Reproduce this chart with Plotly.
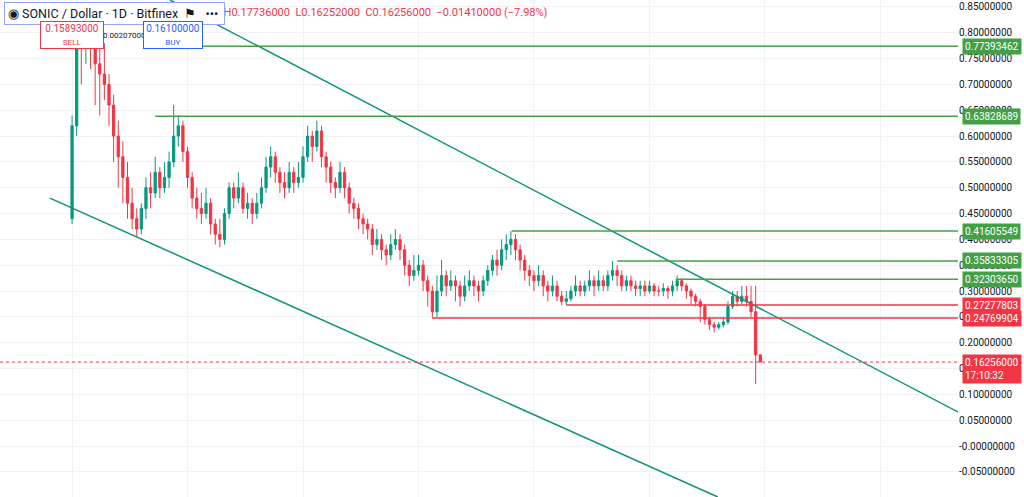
import plotly.graph_objects as go

# daily candles, SONIC / Dollar (Bitfinex)
closes = [0.62, 0.80, 0.78, 0.84, 0.80, 0.74, 0.72, 0.70, 0.66, 0.60,
          0.56, 0.52, 0.47, 0.44, 0.42, 0.46, 0.50, 0.49, 0.53, 0.50,
          0.52, 0.55, 0.60, 0.62, 0.57, 0.52, 0.48, 0.46, 0.45, 0.47,
          0.43, 0.41, 0.40, 0.45, 0.50, 0.48, 0.50, 0.46, 0.47, 0.45,
          0.47, 0.50, 0.54, 0.56, 0.53, 0.51, 0.50, 0.53, 0.51, 0.52,
          0.56, 0.60, 0.58, 0.61, 0.56, 0.54, 0.51, 0.50, 0.53, 0.50,
          0.47, 0.46, 0.44, 0.43, 0.42, 0.39, 0.40, 0.38, 0.37, 0.39,
          0.40, 0.38, 0.35, 0.33, 0.34, 0.35, 0.32, 0.30, 0.26, 0.30,
          0.33, 0.31, 0.32, 0.31, 0.29, 0.31, 0.32, 0.31, 0.30, 0.32,
          0.34, 0.36, 0.35, 0.38, 0.39, 0.40, 0.38, 0.36, 0.34, 0.33,
          0.32, 0.33, 0.31, 0.30, 0.31, 0.29, 0.28, 0.285, 0.30, 0.31,
          0.30, 0.31, 0.32, 0.31, 0.32, 0.31, 0.33, 0.34, 0.33, 0.31,
          0.32, 0.31, 0.305, 0.31, 0.30, 0.31, 0.30, 0.30, 0.305, 0.30,
          0.31, 0.32, 0.31, 0.30, 0.29, 0.28, 0.27, 0.245, 0.235, 0.23,
          0.235, 0.24, 0.27, 0.29, 0.28, 0.29, 0.28, 0.26, 0.17637, 0.16256]
highs = [0.64, 0.86, 0.86, 0.86, 0.86, 0.82, 0.79, 0.78, 0.72, 0.68,
         0.63, 0.59, 0.55, 0.50, 0.46, 0.47, 0.52, 0.53, 0.56, 0.54,
         0.55, 0.57, 0.66, 0.64, 0.63, 0.58, 0.53, 0.50, 0.49, 0.50,
         0.48, 0.44, 0.44, 0.46, 0.51, 0.51, 0.53, 0.51, 0.49, 0.48,
         0.49, 0.52, 0.56, 0.58, 0.57, 0.54, 0.53, 0.55, 0.54, 0.55,
         0.58, 0.62, 0.61, 0.63, 0.62, 0.57, 0.55, 0.52, 0.55, 0.54,
         0.51, 0.48, 0.47, 0.45, 0.44, 0.43, 0.42, 0.41, 0.39, 0.41,
         0.42, 0.41, 0.39, 0.36, 0.37, 0.37, 0.36, 0.33, 0.31, 0.33,
         0.36, 0.34, 0.34, 0.33, 0.32, 0.33, 0.34, 0.33, 0.32, 0.33,
         0.35, 0.37, 0.38, 0.40, 0.41, 0.416, 0.41, 0.39, 0.37, 0.35,
         0.34, 0.35, 0.34, 0.32, 0.33, 0.32, 0.30, 0.30, 0.31, 0.33,
         0.32, 0.32, 0.34, 0.33, 0.34, 0.33, 0.34, 0.358, 0.35, 0.34,
         0.33, 0.33, 0.32, 0.32, 0.32, 0.32, 0.315, 0.31, 0.315, 0.31,
         0.32, 0.33, 0.325, 0.315, 0.305, 0.295, 0.285, 0.275, 0.25, 0.24,
         0.24, 0.25, 0.28, 0.30, 0.30, 0.31, 0.31, 0.31, 0.31, 0.17736]
lows = [0.43, 0.60, 0.70, 0.74, 0.73, 0.66, 0.64, 0.67, 0.62, 0.55,
        0.50, 0.47, 0.44, 0.42, 0.405, 0.41, 0.44, 0.46, 0.48, 0.48,
        0.49, 0.50, 0.54, 0.58, 0.55, 0.50, 0.46, 0.44, 0.43, 0.44,
        0.41, 0.39, 0.385, 0.39, 0.44, 0.46, 0.47, 0.45, 0.44, 0.43,
        0.44, 0.46, 0.49, 0.52, 0.51, 0.49, 0.48, 0.49, 0.49, 0.50,
        0.51, 0.55, 0.55, 0.57, 0.54, 0.51, 0.49, 0.48, 0.49, 0.48,
        0.45, 0.44, 0.42, 0.41, 0.40, 0.37, 0.38, 0.36, 0.35, 0.36,
        0.38, 0.36, 0.33, 0.31, 0.32, 0.33, 0.30, 0.27, 0.248, 0.25,
        0.29, 0.29, 0.30, 0.28, 0.27, 0.28, 0.30, 0.29, 0.28, 0.29,
        0.31, 0.33, 0.33, 0.34, 0.36, 0.37, 0.36, 0.34, 0.32, 0.31,
        0.30, 0.31, 0.29, 0.28, 0.29, 0.28, 0.272, 0.273, 0.28, 0.29,
        0.29, 0.29, 0.30, 0.29, 0.30, 0.30, 0.30, 0.32, 0.31, 0.30,
        0.30, 0.30, 0.29, 0.29, 0.29, 0.295, 0.29, 0.29, 0.29, 0.285,
        0.29, 0.30, 0.30, 0.285, 0.275, 0.27, 0.24, 0.235, 0.225, 0.22,
        0.225, 0.23, 0.235, 0.265, 0.27, 0.275, 0.27, 0.25, 0.12, 0.16252]
first_open = 0.44
opens = [first_open] + closes[:-1]
days = list(range(len(closes)))

# drawn levels: (price, start day, colour)
levels = [(0.77393462, 22.3, "#43a047"), (0.63828689, 18, "#43a047"),
          (0.41605549, 95.2, "#43a047"), (0.35833305, 118, "#43a047"),
          (0.32303650, 130.7, "#43a047"), (0.27277803, 107, "#f23645"),
          (0.24769904, 78, "#f23645")]
last_price = 0.16256
# channel lines: (x0, y0, x1, y1)
channel = [(21.2, 0.8635, 192.2, 0.064), (-4.8, 0.480, 139.8, -0.0987)]

tick_vals = [-0.10, -0.05, 0.0, 0.05, 0.10, 0.15, 0.20, 0.25, 0.30, 0.35, 0.40,
             0.45, 0.50, 0.55, 0.60, 0.65, 0.70, 0.75, 0.80, 0.85]
tick_text = ["-0.10000000", "-0.05000000", "-0.00000000"] + ["%.8f" % v for v in tick_vals[3:]]

GREEN = "#089981"
RED = "#f23645"
W, H, R = 1024, 497, 66
PW = W - R
X_RANGE = [-15.6, 191.8]

fig = go.Figure()
fig.add_trace(go.Candlestick(
    x=days, open=opens, high=highs, low=lows, close=closes,
    increasing=dict(line=dict(color=GREEN, width=1), fillcolor=GREEN),
    decreasing=dict(line=dict(color=RED, width=1), fillcolor=RED),
    whiskerwidth=0, showlegend=False,
))

shapes = []
for x0, y0, x1, y1 in channel:
    shapes.append(dict(type="line", x0=x0, y0=y0, x1=x1, y1=y1, xref="x", yref="y",
                       line=dict(color="#0c9478", width=1.5)))
for price, start, col in levels:
    shapes.append(dict(type="line", x0=start, x1=X_RANGE[1], xref="x", y0=price, y1=price, yref="y",
                       line=dict(color=col, width=1.5)))
shapes.append(dict(type="line", x0=0, x1=1, xref="paper", y0=last_price, y1=last_price, yref="y",
                   line=dict(color=RED, width=1, dash="dot")))

ann = []
for price, start, col in levels:
    ann.append(dict(x=1, xref="paper", y=price, yref="y", xanchor="left", xshift=4,
                    text="%.8f" % price, showarrow=False, bgcolor=col, borderpad=2,
                    font=dict(color="white", size=10)))
ann.append(dict(x=1, xref="paper", y=last_price, yref="y", xanchor="left", xshift=4, yanchor="top",
                yshift=8, text="%.8f<br>17:10:32" % last_price, showarrow=False, bgcolor=RED,
                borderpad=2, align="left", font=dict(color="white", size=10)))


def px(x, y):
    return x / PW, 1 - y / H


ox, oy = px(150, 13)
ann.append(dict(x=ox, y=oy, xref="paper", yref="paper", xanchor="left", yanchor="middle",
                showarrow=False,
                text="O0.17637000  H0.17736000  L0.16252000  C0.16256000  \u22120.01410000 (\u22127.98%)",
                font=dict(color=RED, size=11)))
hx, hy = px(4, 14)
ann.append(dict(x=hx, y=hy, xref="paper", yref="paper", xanchor="left", yanchor="middle",
                showarrow=False,
                text="\u25c9 SONIC / Dollar · 1D · Bitfinex  \u2691   \u2022\u2022\u2022 ",
                bgcolor="white", bordercolor="#90a7f8", borderwidth=1, borderpad=3,
                font=dict(color="#131722", size=12.5)))
sx, sy = px(40, 35)
ann.append(dict(x=sx, y=sy, xref="paper", yref="paper", yanchor="middle", showarrow=False, width=60,
                text="0.15893000<br><span style='font-size:8px'>SELL</span>",
                bgcolor="white", bordercolor=RED, borderwidth=1, borderpad=1,
                font=dict(color=RED, size=10)))
mx, my = px(101, 35)
ann.append(dict(x=mx, y=my, xref="paper", yref="paper", yanchor="middle", showarrow=False,
                text="0.00207000", font=dict(color="#131722", size=8)))
bx, by = px(143, 35)
ann.append(dict(x=bx, y=by, xref="paper", yref="paper", yanchor="middle", showarrow=False, width=56,
                text="0.16100000<br><span style='font-size:8px'>BUY</span>",
                bgcolor="white", bordercolor="#2962ff", borderwidth=1, borderpad=1,
                font=dict(color="#2962ff", size=10)))

fig.update_layout(
    width=W, height=H, margin=dict(l=0, r=R, t=0, b=0, autoexpand=False),
    plot_bgcolor="white", paper_bgcolor="white",
    font=dict(family="Roboto, Liberation Sans, sans-serif", color="#131722"),
    xaxis=dict(range=X_RANGE, showticklabels=False, rangeslider=dict(visible=False),
               showgrid=True, gridcolor="#f2f2f4", dtick=25, zeroline=False),
    yaxis=dict(range=[-0.0987, 0.8635], side="right", tickvals=tick_vals, ticktext=tick_text,
               showgrid=True, gridcolor="#f2f2f4", zeroline=False, ticks="",
               tickfont=dict(size=10, color="#131722")),
    shapes=shapes, annotations=ann, showlegend=False,
)

fig.write_html("out.html", config={"displayModeBar": False},
               post_script="document.body.style.margin='0';")
